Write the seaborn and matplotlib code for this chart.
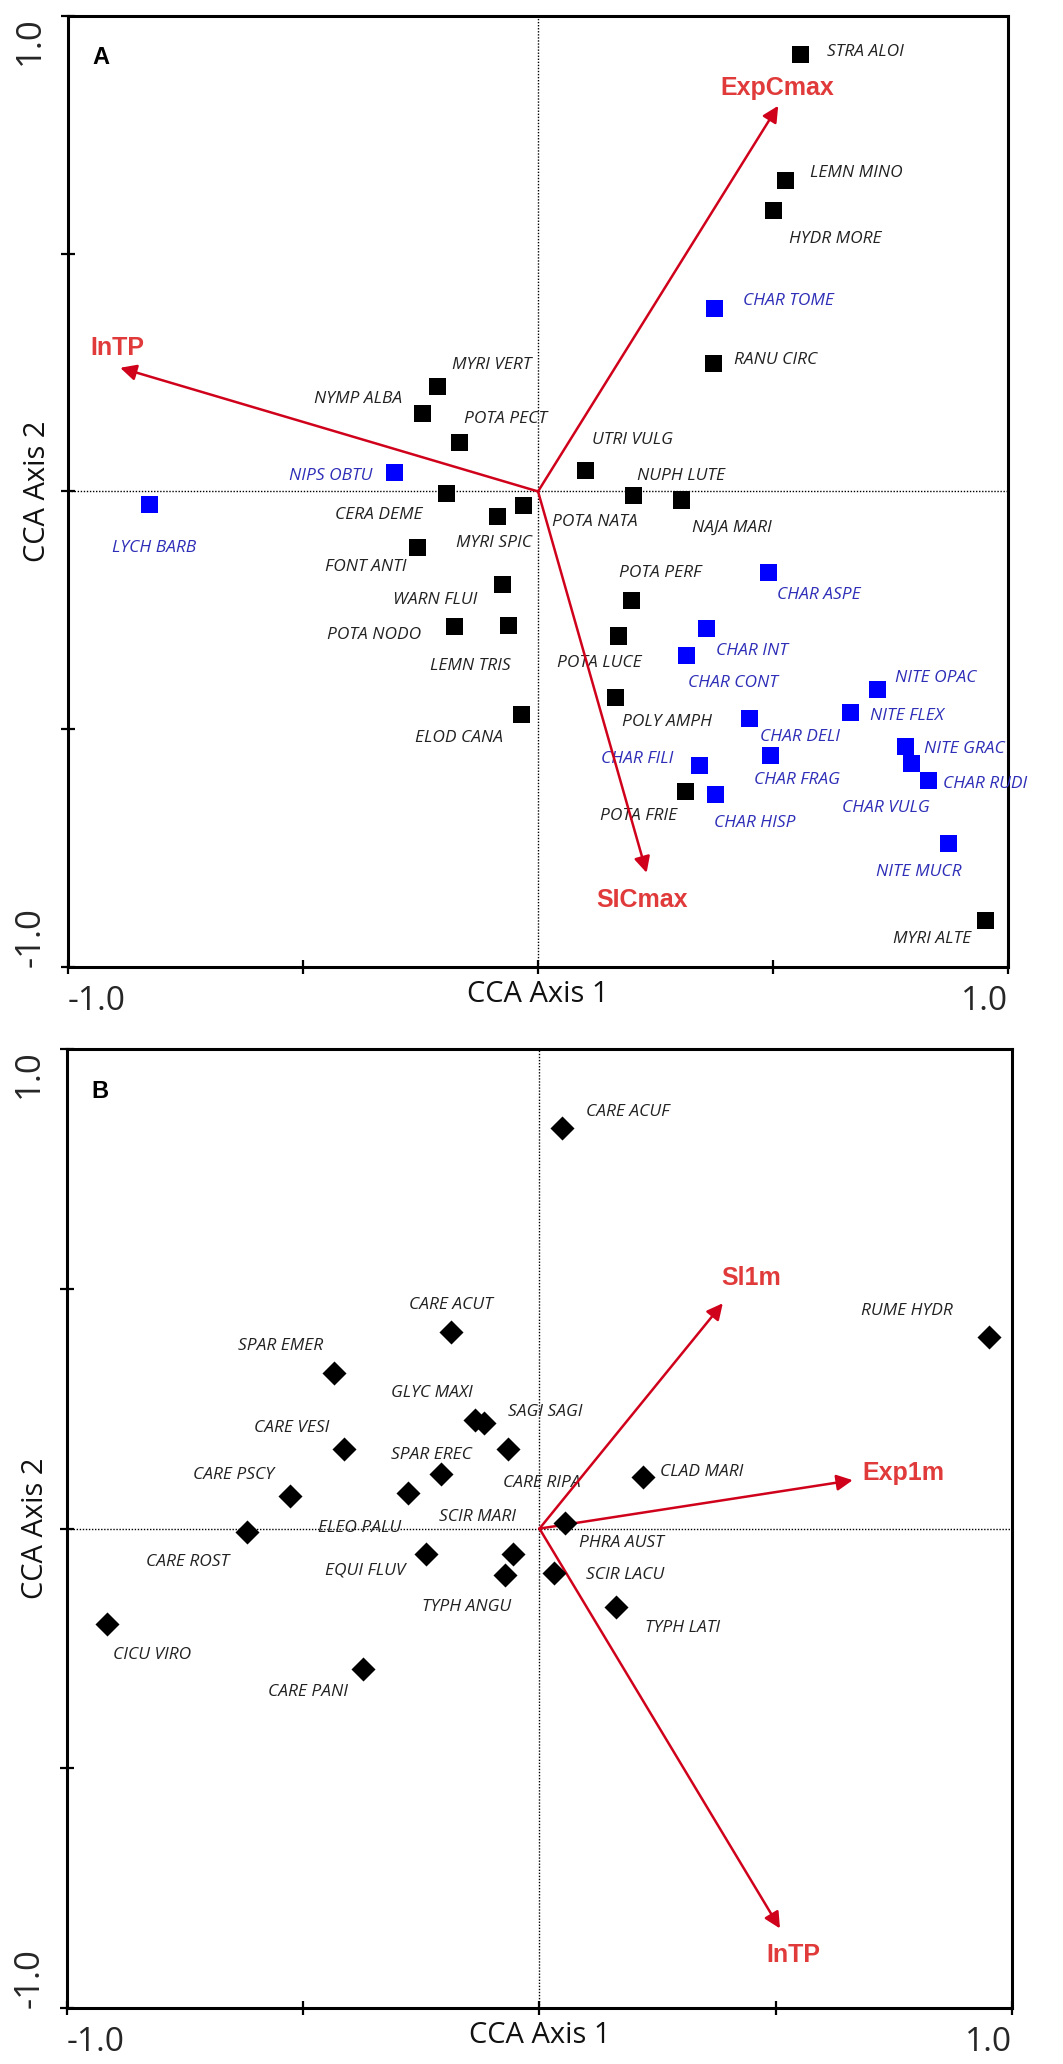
import numpy as np
import pandas as pd
import matplotlib
matplotlib.use("Agg")
import matplotlib.pyplot as plt
import seaborn as sns

# ---------------- Panel A data ----------------
a_species = ["STRA ALOI", "LEMN MINO", "HYDR MORE", "CHAR TOME", "RANU CIRC",
             "MYRI VERT", "NYMP ALBA", "POTA PECT", "NIPS OBTU", "LYCH BARB",
             "CERA DEME", "POTA NATA", "MYRI SPIC", "UTRI VULG", "NUPH LUTE",
             "NAJA MARI", "FONT ANTI", "WARN FLUI", "POTA NODO", "LEMN TRIS",
             "ELOD CANA", "POTA PERF", "POTA LUCE", "CHAR ASPE", "CHAR INT",
             "CHAR CONT", "POLY AMPH", "NITE OPAC", "NITE FLEX", "CHAR DELI",
             "NITE GRAC", "CHAR VULG", "CHAR RUDI", "CHAR FRAG", "CHAR FILI",
             "POTA FRIE", "CHAR HISP", "NITE MUCR", "MYRI ALTE"]
a_axis1 = [0.559, 0.527, 0.502, 0.375, 0.374,
           -0.213, -0.246, -0.167, -0.306, -0.826,
           -0.194, -0.030, -0.086, 0.101, 0.203,
           0.306, -0.257, -0.076, -0.178, -0.063,
           -0.036, 0.198, 0.171, 0.490, 0.359,
           0.316, 0.164, 0.723, 0.665, 0.450,
           0.781, 0.795, 0.830, 0.494, 0.343,
           0.314, 0.378, 0.873, 0.953]
a_axis2 = [0.919, 0.653, 0.591, 0.384, 0.270,
           0.220, 0.164, 0.103, 0.040, -0.028,
           -0.004, -0.030, -0.053, 0.044, -0.009,
           -0.018, -0.118, -0.195, -0.284, -0.282,
           -0.469, -0.230, -0.304, -0.171, -0.289,
           -0.345, -0.434, -0.417, -0.465, -0.477,
           -0.537, -0.573, -0.607, -0.556, -0.577,
           -0.631, -0.638, -0.740, -0.903]
a_group = ["Vascular", "Vascular", "Vascular", "Charophyte", "Vascular",
           "Vascular", "Vascular", "Vascular", "Charophyte", "Charophyte",
           "Vascular", "Vascular", "Vascular", "Vascular", "Vascular",
           "Vascular", "Vascular", "Vascular", "Vascular", "Vascular",
           "Vascular", "Vascular", "Vascular", "Charophyte", "Charophyte",
           "Charophyte", "Vascular", "Charophyte", "Charophyte", "Charophyte",
           "Charophyte", "Charophyte", "Charophyte", "Charophyte", "Charophyte",
           "Vascular", "Charophyte", "Charophyte", "Vascular"]
a_env = ["ExpCmax", "SICmax", "InTP"]
a_env_axis1 = [0.511, 0.231, -0.889]
a_env_axis2 = [0.811, -0.802, 0.260]

# ---------------- Panel B data ----------------
b_species = ["CARE ACUF", "CARE ACUT", "SPAR EMER", "GLYC MAXI", "SAGI SAGI",
             "CARE RIPA", "CARE VESI", "SPAR EREC", "CARE PSCY", "ELEO PALU",
             "CARE ROST", "SCIR MARI", "TYPH ANGU", "EQUI FLUV", "CICU VIRO",
             "CARE PANI", "RUME HYDR", "CLAD MARI", "PHRA AUST", "SCIR LACU",
             "TYPH LATI"]
b_axis1 = [0.048, -0.188, -0.435, -0.137, -0.117,
           -0.066, -0.413, -0.209, -0.528, -0.279,
           -0.620, -0.055, -0.072, -0.240, -0.916,
           -0.374, 0.952, 0.220, 0.054, 0.031,
           0.162]
b_axis2 = [0.836, 0.409, 0.325, 0.226, 0.221,
           0.167, 0.165, 0.113, 0.068, 0.075,
           -0.008, -0.053, -0.097, -0.053, -0.198,
           -0.293, 0.399, 0.107, 0.011, -0.093,
           -0.163]
b_env = ["Sl1m", "Exp1m", "InTP"]
b_env_axis1 = [0.388, 0.663, 0.509]
b_env_axis2 = [0.470, 0.101, -0.834]

# ---------------- label placement (style, pixel offsets) ----------------
a_lab_off = {
    "STRA ALOI": (26, 2, "left"), "LEMN MINO": (24, 8, "left"),
    "HYDR MORE": (15, -29, "left"), "CHAR TOME": (29, 8, "left"),
    "RANU CIRC": (20, 3, "left"), "MYRI VERT": (14, 22, "left"),
    "NYMP ALBA": (-20, 14, "right"), "POTA PECT": (4, 23, "left"),
    "NIPS OBTU": (-22, -4, "right"), "LYCH BARB": (4, -43, "center"),
    "CERA DEME": (-24, -22, "right"), "POTA NATA": (28, -16, "left"),
    "MYRI SPIC": (-42, -26, "left"), "UTRI VULG": (6, 31, "left"),
    "NUPH LUTE": (4, 20, "left"), "NAJA MARI": (10, -28, "left"),
    "FONT ANTI": (-11, -19, "right"), "WARN FLUI": (-25, -16, "right"),
    "POTA NODO": (-33, -9, "right"), "LEMN TRIS": (2, -40, "right"),
    "ELOD CANA": (-18, -24, "right"), "POTA PERF": (-12, 28, "left"),
    "POTA LUCE": (-61, -27, "left"), "CHAR ASPE": (9, -22, "left"),
    "CHAR INT": (9, -22, "left"), "CHAR CONT": (1, -27, "left"),
    "POLY AMPH": (7, -24, "left"), "NITE OPAC": (17, 12, "left"),
    "NITE FLEX": (19, -3, "left"), "CHAR DELI": (10, -19, "left"),
    "NITE GRAC": (19, -2, "left"), "CHAR VULG": (-70, -44, "left"),
    "CHAR RUDI": (15, -4, "left"), "CHAR FRAG": (-16, -24, "left"),
    "CHAR FILI": (-26, 7, "right"), "POTA FRIE": (-8, -24, "right"),
    "CHAR HISP": (-2, -28, "left"), "NITE MUCR": (-72, -29, "left"),
    "MYRI ALTE": (-15, -18, "right"),
}
a_env_off = {"ExpCmax": (-1, 18, "center"), "SICmax": (-5, -27, "center"),
             "InTP": (-3, 20, "center")}
b_lab_off = {
    "CARE ACUF": (24, 16, "left"), "CARE ACUT": (0, 27, "center"),
    "SPAR EMER": (-11, 27, "right"), "GLYC MAXI": (-43, 27, "center"),
    "SAGI SAGI": (24, 11, "left"), "CARE RIPA": (-5, -34, "left"),
    "CARE VESI": (-53, 21, "center"), "SPAR EREC": (-9, 19, "center"),
    "CARE PSCY": (-56, 21, "center"), "ELEO PALU": (-48, -35, "center"),
    "CARE ROST": (-59, -30, "center"), "SCIR MARI": (-36, 37, "center"),
    "TYPH ANGU": (-39, -32, "center"), "EQUI FLUV": (-61, -16, "center"),
    "CICU VIRO": (45, -31, "center"), "CARE PANI": (-55, -23, "center"),
    "RUME HYDR": (-82, 26, "center"), "CLAD MARI": (17, 5, "left"),
    "PHRA AUST": (56, -20, "center"), "SCIR LACU": (71, -2, "center"),
    "TYPH LATI": (67, -21, "center"),
}
b_env_off = {"Sl1m": (28, 25, "center"), "Exp1m": (10, 7, "left"),
             "InTP": (13, -27, "center")}

# ---------------- styling ----------------
sns.set_theme(style="white")
plt.rcParams["font.family"] = ["Open Sans", "DejaVu Sans"]

ARROW = "#D0021B"
ENVTXT = "#E03A3A"
BLUE_TXT = "#2E2EB8"
BLACK_TXT = "#222222"
grp_palette = {"Vascular": "#000000", "Charophyte": "#0000FF"}

fig = plt.figure(figsize=(10.63, 20.64), dpi=100)
axA = fig.add_axes([0.064, 0.5315, 0.8843, 0.4608])
axB = fig.add_axes([0.063, 0.0271, 0.889, 0.4646])

dfA = pd.DataFrame({"species": a_species, "axis1": a_axis1,
                    "axis2": a_axis2, "group": a_group})
dfB = pd.DataFrame({"species": b_species, "axis1": b_axis1, "axis2": b_axis2})
envA = pd.DataFrame({"var": a_env, "axis1": a_env_axis1, "axis2": a_env_axis2})
envB = pd.DataFrame({"var": b_env, "axis1": b_env_axis1, "axis2": b_env_axis2})


def setup_axes(ax, letter):
    ax.set_xlim(-1, 1)
    ax.set_ylim(-1, 1)
    ax.axhline(0, color="black", lw=1.0, ls=(0, (1, 1.2)), zorder=1)
    ax.axvline(0, color="black", lw=1.0, ls=(0, (1, 1.2)), zorder=1)
    for s in ax.spines.values():
        s.set_linewidth(2.2)
        s.set_color("black")
    ticks = [-1, -0.5, 0, 0.5, 1]
    ax.set_xticks(ticks)
    ax.set_xticklabels(["-1.0", "", "", "", "1.0"])
    ax.set_yticks(ticks)
    ax.set_yticklabels(["-1.0", "", "", "", "1.0"], rotation=90)
    ax.tick_params(axis="both", direction="inout", length=10, width=1.6,
                   color="black", bottom=True, left=True, top=False,
                   right=False)
    ax.tick_params(axis="x", labelsize=24, pad=8)
    ax.tick_params(axis="y", labelsize=25, pad=10)
    xl = ax.get_xticklabels()
    xl[0].set_ha("left")
    xl[-1].set_ha("right")
    yl = ax.get_yticklabels()
    yl[0].set_va("bottom")
    yl[-1].set_va("top")
    ax.text(0.035, 0.956, letter, transform=ax.transAxes, fontsize=17,
            fontweight="bold", family=["Liberation Sans", "DejaVu Sans"],
            ha="center", va="center", color="black")


def draw_env(ax, env, offs):
    for _, r in env.iterrows():
        ax.annotate("", xy=(r["axis1"], r["axis2"]), xytext=(0, 0),
                    arrowprops=dict(arrowstyle="-|>", color=ARROW, lw=1.8,
                                    mutation_scale=24, shrinkA=0, shrinkB=0),
                    zorder=4)
        dx, dy, ha = offs[r["var"]]
        ax.annotate(r["var"], xy=(r["axis1"], r["axis2"]), xytext=(dx, dy),
                    textcoords="offset pixels", ha=ha, va="center",
                    fontsize=18, fontweight="bold", color=ENVTXT,
                    family=["Liberation Sans", "DejaVu Sans"], zorder=5)


def draw_labels(ax, df, offs, colors):
    for i, r in df.iterrows():
        dx, dy, ha = offs[r["species"]]
        ax.annotate(r["species"], xy=(r["axis1"], r["axis2"]),
                    xytext=(dx, dy), textcoords="offset pixels", ha=ha,
                    va="center", fontsize=12.5, style="italic",
                    color=colors[i], zorder=3)


# Panel A
setup_axes(axA, "A")
draw_env(axA, envA, a_env_off)
sns.scatterplot(data=dfA, x="axis1", y="axis2", hue="group",
                palette=grp_palette, marker="s", s=150, linewidth=0,
                legend=False, ax=axA, zorder=6)
colA = [BLUE_TXT if g == "Charophyte" else BLACK_TXT for g in a_group]
draw_labels(axA, dfA, a_lab_off, colA)

# Panel B
setup_axes(axB, "B")
draw_env(axB, envB, b_env_off)
sns.scatterplot(data=dfB, x="axis1", y="axis2", color="black", marker="D",
                s=150, linewidth=0, legend=False, ax=axB, zorder=6)
draw_labels(axB, dfB, b_lab_off, [BLACK_TXT] * len(dfB))

for ax in (axA, axB):
    ax.set_xlabel("CCA Axis 1", fontsize=21, color="#111111")
    ax.set_ylabel("CCA Axis 2", fontsize=21, color="#111111")
    ax.xaxis.set_label_coords(0.5, -0.014)
    ax.xaxis.label.set_va("top")
    ax.yaxis.set_label_coords(-0.033, 0.5)
    ax.yaxis.label.set_va("center")

fig.savefig("out.png", dpi=100, facecolor="white")
